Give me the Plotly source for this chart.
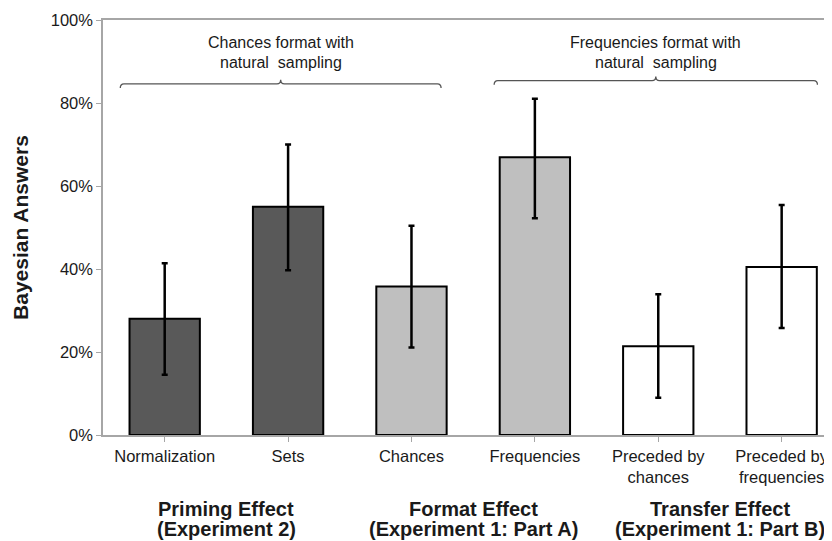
import plotly.graph_objects as go

categories = ["Normalization", "Sets", "Chances", "Frequencies", "Preceded by<br>chances", "Preceded by<br>frequencies"]
values = [28.0, 55.0, 35.8, 66.9, 21.4, 40.5]
err_plus = [13.4, 15.0, 14.6, 14.1, 12.5, 14.9]
err_minus = [13.5, 15.3, 14.7, 14.7, 12.4, 14.7]
bar_colors = ["#595959", "#595959", "#bfbfbf", "#bfbfbf", "#ffffff", "#ffffff"]
y_ticks = [0, 20, 40, 60, 80, 100]
y_ticktext = ["0%", "20%", "40%", "60%", "80%", "100%"]

group_line1 = ["Priming Effect", "Format Effect", "Transfer Effect"]
group_line2 = ["(Experiment 2)", "(Experiment 1: Part A)", "(Experiment 1: Part B)"]
group_centers = [0.5, 2.5, 4.5]

brace_line1 = ["Chances format with", "Frequencies format with"]
brace_line2 = ["natural  sampling", "natural  sampling"]
brace_spans = [(-0.36, 2.24), (2.67, 5.29)]
brace_levels = [84.6, 85.4]

xs = list(range(len(categories)))

fig = go.Figure()
fig.add_trace(go.Bar(
    x=xs, y=values, width=0.57,
    marker=dict(color=bar_colors, line=dict(color="#000000", width=2)),
    error_y=dict(type="data", symmetric=False, array=err_plus, arrayminus=err_minus,
                 color="#000000", thickness=2.5, width=3),
    showlegend=False,
))

font_family = "Liberation Sans, Arial, sans-serif"
txt_color = "#1a1a1a"

shapes = []
for (x0, x1), yb in zip(brace_spans, brace_levels):
    xm = (x0 + x1) / 2
    d = 1.0
    e = 0.03
    path = (f"M {x0},{yb-d} Q {x0},{yb} {x0+e},{yb} L {xm-e},{yb} Q {xm},{yb} {xm},{yb+d} "
            f"Q {xm},{yb} {xm+e},{yb} L {x1-e},{yb} Q {x1},{yb} {x1},{yb-d}")
    shapes.append(dict(type="path", path=path, xref="x", yref="y",
                       line=dict(color="#555555", width=1.3)))

annotations = []
for t1, t2, (x0, x1) in zip(brace_line1, brace_line2, brace_spans):
    xc = (x0 + x1) / 2
    annotations.append(dict(x=xc, y=94.5, xref="x", yref="y", text=t1, showarrow=False,
                            yanchor="middle", font=dict(size=16, color=txt_color, family=font_family)))
    annotations.append(dict(x=xc, y=89.8, xref="x", yref="y", text=t2, showarrow=False,
                            yanchor="middle", font=dict(size=16, color=txt_color, family=font_family)))
for t1, t2, xc in zip(group_line1, group_line2, group_centers):
    annotations.append(dict(x=xc, y=0, xref="x", yref="paper", text=f"<b>{t1}</b>", showarrow=False,
                            yanchor="middle", yshift=-73.5,
                            font=dict(size=20, color=txt_color, family=font_family)))
    annotations.append(dict(x=xc, y=0, xref="x", yref="paper", text=f"<b>{t2}</b>", showarrow=False,
                            yanchor="middle", yshift=-94,
                            font=dict(size=20, color=txt_color, family=font_family)))

fig.update_layout(
    width=824, height=533,
    margin=dict(l=95, r=0, t=12, b=106),
    plot_bgcolor="white", paper_bgcolor="white",
    font=dict(family=font_family, size=17, color=txt_color),
    shapes=shapes, annotations=annotations,
)
fig.update_xaxes(
    tickmode="array", tickvals=xs, ticktext=categories,
    range=[-0.5, 5.408],
    showline=True, linecolor="#a6a6a6", linewidth=1.5, mirror=True,
    ticks="outside", ticklen=5, tickcolor="#a6a6a6",
    showgrid=False, zeroline=False,
    tickfont=dict(size=16.5),
)
fig.update_yaxes(
    range=[0, 100], tickmode="array", tickvals=y_ticks, ticktext=y_ticktext,
    showline=True, linecolor="#a6a6a6", linewidth=1.5,
    ticks="outside", ticklen=5, tickcolor="#a6a6a6",
    showgrid=False, zeroline=False,
    tickfont=dict(size=16.5),
    title=dict(text="<b>Bayesian Answers</b>", font=dict(size=21), standoff=16),
)
fig.write_html("out.html")
